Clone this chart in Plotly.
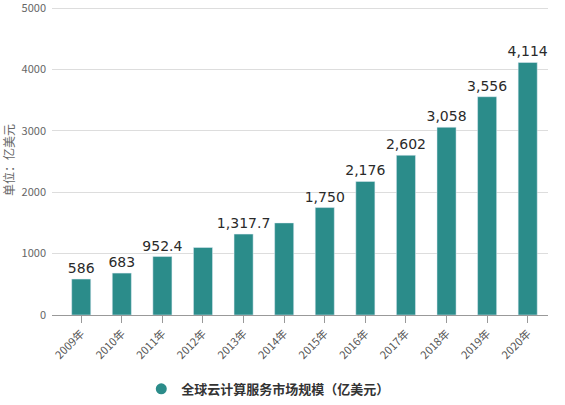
import plotly.graph_objects as go

years = ["2009年", "2010年", "2011年", "2012年", "2013年", "2014年", "2015年",
         "2016年", "2017年", "2018年", "2019年", "2020年"]
values = [586, 683, 952.4, 1100, 1317.7, 1500, 1750, 2176, 2602, 3058, 3556, 4114]
labels = ["586", "683", "952.4", "", "1,317.7", "", "1,750", "2,176", "2,602",
          "3,058", "3,556", "4,114"]
series_name = "全球云计算服务市场规模（亿美元）"
y_ticks = [0, 1000, 2000, 3000, 4000, 5000]

color = "#2b8c8a"
font_family = "Noto Sans CJK SC, Noto Sans, sans-serif"

fig = go.Figure()
fig.add_trace(go.Bar(
    x=years, y=values, text=labels, textposition="outside",
    marker_color=color, width=0.47, showlegend=False,
    textfont=dict(size=14, color="#2a2a2a", family="DejaVu Sans, sans-serif"),
    constraintext="none", cliponaxis=False,
))
fig.add_trace(go.Scatter(
    x=[None], y=[None], mode="markers", name=series_name,
    marker=dict(symbol="circle", size=11, color=color), showlegend=True,
))

fig.update_layout(
    width=565, height=405,
    margin=dict(l=52, r=17, t=5, b=90, autoexpand=False),
    paper_bgcolor="white", plot_bgcolor="white",
    font=dict(family=font_family, color="#555555"),
    legend=dict(orientation="h", x=0.18, xanchor="left", y=-0.19, yanchor="top",
                font=dict(size=13, color="#333333", weight="bold"),
                itemwidth=30),
    bargap=0.53,
)
fig.update_xaxes(
    type="category", tickangle=-45, tickfont=dict(size=11, color="#555555"),
    range=[-0.72, 11.5],
    showline=True, linecolor="#999999", linewidth=1,
    ticks="outside", ticklen=7, tickcolor="#999999", showgrid=False,
)
fig.update_yaxes(
    range=[0, 5050], tickvals=y_ticks, tickfont=dict(size=11, color="#666666"),
    showgrid=True, gridcolor="#dddddd", gridwidth=1, zeroline=False,
    showline=False, ticks="", ticklabelstandoff=5, ticklabeloverflow="allow",
    title=dict(text="单位：亿美元", font=dict(size=12, color="#666666"), standoff=7),
)

fig.write_html("out.html", config={"displayModeBar": False},
               post_script="document.body.style.margin='0';")
